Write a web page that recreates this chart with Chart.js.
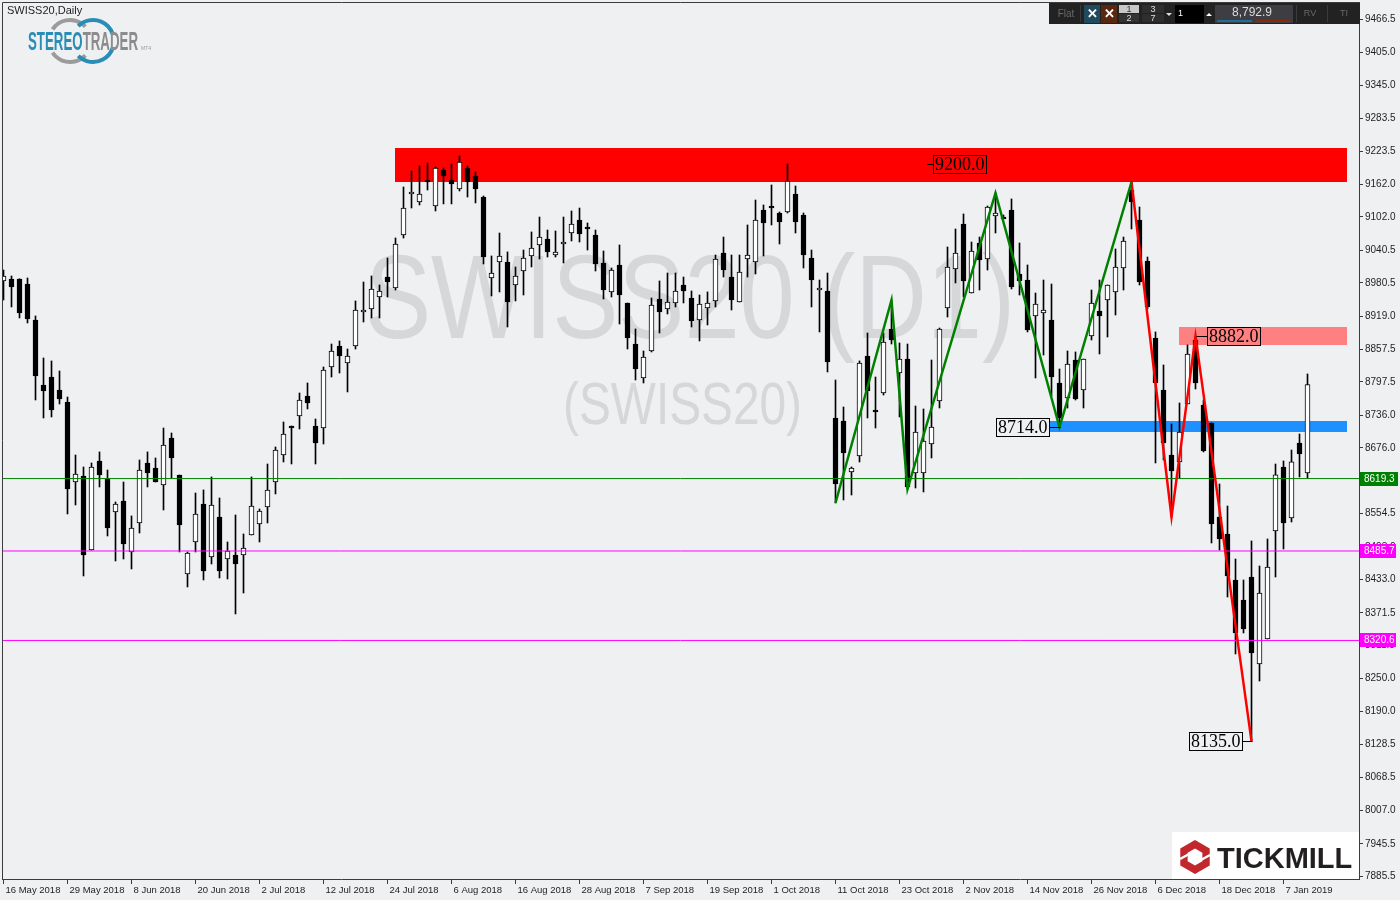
<!DOCTYPE html>
<html>
<head>
<meta charset="utf-8">
<title>SWISS20, Daily</title>
<script src="https://cdn.jsdelivr.net/npm/chart.js@4.4.1/dist/chart.umd.min.js"></script>
<style>
  html, body { margin: 0; padding: 0; background: #eff0f2; }
  canvas { display: block; }
</style>
</head>
<body>
<canvas id="chart" width="1400" height="900"></canvas>
<script>
// ---- Daily candles, SWISS20 (16 May 2018 - 8 Jan 2019) ----
const opens = [
  8983.9, 8987.5, 8987.5, 8978.3, 8911.9, 8792.0, 8806.7, 8782.7, 8760.6, 8613.0,
  8624.1, 8487.5, 8651.8, 8618.5, 8557.7, 8578.0, 8483.9, 8537.4, 8648.1, 8638.8,
  8607.5, 8694.2, 8625.9, 8443.3, 8502.3, 8572.4, 8474.6, 8548.4, 8470.9, 8478.3,
  8478.3, 8515.2, 8535.5, 8566.9, 8613.0, 8662.8, 8716.3, 8734.8, 8771.7, 8716.3,
  8712.6, 8825.2, 8863.9, 8832.6, 8863.9, 8926.7, 8932.2, 8954.3, 8991.2, 8970.9,
  9068.7, 9144.4, 9129.6, 9170.2, 9122.2, 9188.7, 9170.2, 9153.6, 9192.3, 9177.6,
  9138.8, 8989.4, 9018.9, 9018.9, 8976.5, 9002.3, 9030.0, 9050.3, 9061.3, 9031.8,
  9052.1, 9072.4, 9096.4, 9081.6, 9068.7, 9017.1, 8963.6, 9013.4, 8943.3, 8867.6,
  8804.9, 8854.7, 8950.6, 8932.2, 8943.3, 8976.5, 8952.5, 8911.9, 8934.0, 8947.0,
  9035.5, 8991.2, 8945.1, 9024.4, 9018.9, 9114.8, 9120.4, 9109.3, 9111.2, 9144.4,
  9105.6, 9026.3, 8967.2, 8965.4, 8731.1, 8725.6, 8631.5, 8661.0, 8845.5, 8745.8,
  8777.2, 8895.3, 8814.1, 8839.9, 8629.6, 8629.6, 8683.1, 8762.5, 8934.0, 9006.0,
  9089.0, 8961.7, 9054.0, 9024.4, 9103.8, 9100.1, 9114.8, 8996.8, 8985.7, 8919.3,
  8924.8, 8911.9, 8795.7, 8768.0, 8838.1, 8782.7, 8882.4, 8928.5, 8948.8, 8963.6,
  9007.8, 9151.7, 9096.4, 9020.7, 8878.7, 8782.7, 8662.8, 8649.9, 8756.9, 8875.0,
  8755.1, 8721.9, 8548.4, 8517.1, 8432.2, 8395.3, 8437.7, 8277.2, 8323.4, 8522.6,
  8640.7, 8546.6, 8685.0, 8629.6
];
const highs = [
  9004.1, 8993.1, 8988.0, 8989.4, 8919.3, 8841.8, 8836.3, 8817.8, 8769.8, 8662.8,
  8640.7, 8648.1, 8668.4, 8635.1, 8576.1, 8613.0, 8550.3, 8653.6, 8668.4, 8657.3,
  8712.6, 8703.4, 8625.9, 8483.9, 8592.7, 8598.3, 8622.3, 8583.5, 8502.3, 8552.1,
  8517.1, 8622.3, 8563.2, 8646.2, 8677.6, 8723.7, 8716.3, 8777.2, 8795.7, 8729.2,
  8825.2, 8867.6, 8873.2, 8858.4, 8947.0, 8982.0, 8993.1, 8976.5, 9026.3, 9063.2,
  9157.3, 9186.8, 9196.0, 9201.6, 9194.2, 9192.3, 9199.7, 9214.5, 9196.0, 9185.0,
  9140.7, 9030.0, 9072.4, 9037.4, 9009.7, 9041.0, 9074.3, 9101.9, 9077.9, 9076.1,
  9101.9, 9113.0, 9118.5, 9090.9, 9077.9, 9039.2, 9007.8, 9050.3, 8943.3, 8895.3,
  8854.7, 8952.5, 8983.9, 8998.6, 8998.6, 8991.2, 8965.4, 8958.0, 8963.6, 9031.8,
  9065.0, 9031.8, 9031.8, 9087.2, 9133.3, 9124.1, 9161.0, 9111.2, 9199.7, 9159.1,
  9109.3, 9041.0, 8985.7, 8998.6, 8801.2, 8751.4, 8640.7, 8836.3, 8887.9, 8806.7,
  8887.9, 8948.8, 8869.5, 8867.6, 8753.2, 8747.7, 8838.1, 8897.1, 9046.6, 9079.8,
  9107.5, 9055.8, 9065.0, 9122.2, 9146.2, 9105.6, 9135.2, 9054.0, 9013.4, 8961.7,
  8985.7, 8978.3, 8821.5, 8854.7, 8852.9, 8839.9, 8967.2, 8985.7, 8976.5, 9042.9,
  9065.0, 9166.5, 9120.4, 9028.1, 8889.8, 8828.9, 8720.0, 8758.8, 8865.8, 8882.0,
  8764.3, 8722.0, 8609.3, 8568.7, 8470.9, 8432.2, 8504.2, 8458.0, 8507.9, 8646.2,
  8651.8, 8672.0, 8701.6, 8812.3
];
const lows = [
  8948.8, 8935.9, 8915.6, 8906.4, 8764.3, 8731.1, 8733.0, 8756.9, 8554.0, 8570.6,
  8439.6, 8487.5, 8603.8, 8513.4, 8467.3, 8470.9, 8452.5, 8518.9, 8603.8, 8613.0,
  8561.3, 8620.4, 8483.9, 8419.3, 8483.9, 8432.2, 8461.7, 8435.9, 8434.0, 8369.5,
  8408.2, 8515.2, 8502.3, 8537.4, 8590.9, 8649.9, 8646.2, 8710.8, 8747.7, 8646.2,
  8683.1, 8806.7, 8814.1, 8779.1, 8858.4, 8908.2, 8915.6, 8915.6, 8954.3, 8967.2,
  9063.2, 9118.5, 9124.1, 9151.7, 9113.0, 9126.0, 9126.0, 9149.9, 9138.8, 9127.8,
  9015.2, 8956.2, 8963.6, 8899.0, 8947.0, 8958.0, 9009.7, 9024.4, 9028.1, 9028.1,
  9017.1, 9057.7, 9055.8, 9041.0, 9002.3, 8950.6, 8954.3, 8904.5, 8858.4, 8801.2,
  8795.7, 8852.9, 8887.9, 8923.0, 8935.9, 8943.3, 8899.0, 8873.2, 8902.7, 8935.9,
  8991.2, 8930.3, 8945.1, 8991.2, 8996.8, 9030.0, 9087.2, 9052.1, 9109.3, 9072.4,
  9007.8, 8935.9, 8889.8, 8816.0, 8574.3, 8579.8, 8589.0, 8649.9, 8731.1, 8712.6,
  8773.5, 8867.6, 8733.0, 8600.0, 8601.9, 8594.6, 8657.3, 8749.5, 8917.4, 8980.2,
  8954.3, 8961.7, 8967.2, 9004.1, 9072.4, 9098.2, 8969.1, 8958.0, 8889.8, 8804.9,
  8847.3, 8771.7, 8714.0, 8749.5, 8764.3, 8749.5, 8875.0, 8849.2, 8880.5, 8921.1,
  8967.2, 9079.8, 8976.5, 8932.2, 8648.1, 8653.6, 8548.4, 8620.4, 8756.9, 8784.6,
  8668.4, 8500.5, 8487.5, 8400.8, 8295.7, 8334.4, 8135.0, 8245.8, 8323.4, 8437.7,
  8489.4, 8539.2, 8622.3, 8620.4
];
const closes = [
  8993.1, 8972.8, 8924.8, 8913.7, 8808.6, 8780.9, 8745.8, 8766.1, 8600.1, 8627.8,
  8478.3, 8640.7, 8625.9, 8528.1, 8572.4, 8498.6, 8528.1, 8635.1, 8629.6, 8613.0,
  8681.3, 8657.3, 8533.7, 8482.0, 8554.0, 8448.8, 8570.6, 8448.8, 8485.7, 8461.7,
  8491.2, 8568.7, 8559.5, 8598.3, 8672.0, 8701.6, 8712.6, 8764.3, 8758.8, 8685.0,
  8819.6, 8854.7, 8845.5, 8845.5, 8930.3, 8930.3, 8969.1, 8965.4, 8982.0, 9052.1,
  9118.5, 9146.2, 9144.4, 9166.5, 9192.3, 9177.6, 9162.8, 9203.4, 9166.5, 9153.6,
  9028.1, 8998.6, 9030.0, 8945.1, 8993.1, 9026.3, 9044.7, 9065.0, 9037.4, 9037.4,
  9052.1, 9089.0, 9070.9, 9079.8, 9015.2, 8967.2, 9004.1, 8958.0, 8878.7, 8821.5,
  8843.6, 8939.6, 8926.7, 8945.1, 8965.4, 8965.4, 8910.0, 8941.4, 8943.3, 9024.4,
  9004.1, 8948.8, 9000.5, 9031.8, 9096.4, 9090.9, 9118.5, 9092.7, 9168.4, 9092.7,
  9031.8, 8985.7, 8967.2, 8834.4, 8609.3, 8666.5, 8638.8, 8832.6, 8780.9, 8742.2,
  8871.3, 8875.0, 8839.9, 8603.8, 8705.3, 8688.7, 8714.5, 8895.3, 9009.7, 9035.5,
  8983.9, 9039.2, 9022.6, 9120.4, 9109.3, 9098.2, 8972.8, 8983.9, 8893.4, 8941.4,
  8930.3, 8806.7, 8731.1, 8830.7, 8766.1, 8839.9, 8943.3, 8919.3, 8976.5, 9009.7,
  9057.7, 9129.6, 8982.0, 8935.9, 8795.7, 8685.0, 8633.3, 8705.3, 8849.2, 8795.7,
  8670.2, 8535.5, 8507.9, 8439.6, 8334.4, 8341.8, 8297.5, 8408.2, 8456.2, 8626.0,
  8537.4, 8650.0, 8664.7, 8792.9
];

// date labels along the time axis, one every 8 sessions
const dateLabels = [
  '16 May 2018', '29 May 2018', '8 Jun 2018', '20 Jun 2018', '2 Jul 2018',
  '12 Jul 2018', '24 Jul 2018', '6 Aug 2018', '16 Aug 2018', '28 Aug 2018',
  '7 Sep 2018', '19 Sep 2018', '1 Oct 2018', '11 Oct 2018', '23 Oct 2018',
  '2 Nov 2018', '14 Nov 2018', '26 Nov 2018', '6 Dec 2018', '18 Dec 2018', '7 Jan 2019'
];
const dateTickIndex = [0, 8, 16, 24, 32, 40, 48, 56, 64, 72, 80, 88, 96, 104, 112, 120, 128, 136, 144, 152, 160];

// price scale labels
const priceTicks = [
  9466.5, 9405.0, 9345.0, 9283.5, 9223.5, 9162.0, 9102.0, 9040.5, 8980.5,
  8919.0, 8857.5, 8797.5, 8736.0, 8676.0, 8614.5, 8554.5, 8493.0, 8433.0,
  8371.5, 8311.5, 8250.0, 8190.0, 8128.5, 8068.5, 8007.0, 7945.5, 7885.5
];

// zig-zag swings (candle index, price)
const upWaveIdx = [104, 111, 113, 124, 132, 141];
const upWaveVal = [8574.3, 8948.8, 8600.0, 9146.2, 8714.0, 9166.5];
const downWaveIdx = [141, 146, 149, 156];
const downWaveVal = [9166.5, 8548.4, 8882.0, 8135.0];

// horizontal levels
const levelValues = [8619.3, 8485.7, 8320.6];
const levelColors = ['#008000', '#ff00ff', '#ff00ff'];

// supply / demand zones
const zoneLow = [9166.5, 8865.8, 8705.3];
const zoneHigh = [9229.2, 8899.0, 8725.6];
const zoneFrom = [48.9, 146.9, 130.8];
const zoneTo = [167.9, 167.9, 167.9];
const zoneColors = ['#ff0000', '#ff8080', '#1e90ff'];

// price tags: value, anchor candle, side (+1 right / -1 left), connector length
const tagValues = [9200.0, 8882.0, 8714.0, 8135.0];
const tagAnchor = [115.5, 149, 132, 156];
const tagSide = [1, 1, -1, -1];
const tagGap = [6, 11, 11, 10];

const lastPrice = 8792.9;

// ---- scale range ----
const X_MIN = -0.1875, X_MAX = 169.4375;
const Y_MIN = 7880.5, Y_MAX = 9498.6;

const idx = opens.map((_, i) => i);
const wickData = idx.map(i => ({ x: i, y: [lows[i], highs[i]] }));
const bodyData = idx.map(i => ({ x: i, y: [opens[i], closes[i]] }));
const bodyFill = idx.map(i => closes[i] >= opens[i] ? '#ffffff' : '#000000');

const levelSets = levelValues.map((v, k) => ({
  type: 'line',
  data: [{ x: X_MIN - 1, y: v }, { x: X_MAX + 1, y: v }],
  borderColor: levelColors[k],
  borderWidth: 1,
  pointRadius: 0,
  tension: 0,
  order: 1
}));

const AXIS = '#3c3c3c';
const TXT = '#1e1e1e';

// keep the plot box exactly where the layout puts it (no room reserved for edge labels)
const noEdgePadding = s => {
  s.paddingTop = 0; s.paddingBottom = 0; s.paddingLeft = 0; s.paddingRight = 0;
};

const decor = {
  id: 'decor',
  beforeDraw(chart) {
    const ctx = chart.ctx;
    ctx.save();
    ctx.fillStyle = '#eff0f2';
    ctx.fillRect(0, 0, chart.width, chart.height);
    ctx.restore();
  },
  beforeDatasetsDraw(chart) {
    const ctx = chart.ctx, a = chart.chartArea;
    const xs = chart.scales.x, ys = chart.scales.y;
    ctx.save();
    ctx.beginPath();
    ctx.rect(a.left, a.top, a.right - a.left, a.bottom - a.top);
    ctx.clip();
    // symbol watermark
    ctx.fillStyle = '#d5d7d9';
    ctx.textBaseline = 'alphabetic';
    ctx.textAlign = 'left';
    const drawWide = (txt, size, left, base, width) => {
      ctx.font = size + 'px "Liberation Sans", Arial, sans-serif';
      const w = ctx.measureText(txt).width;
      ctx.save();
      ctx.translate(left, base);
      ctx.scale(width / w, 1);
      ctx.fillText(txt, 0, 0);
      ctx.restore();
    };
    drawWide('SWISS20 (D1)', 119, 365, 338, 650);
    drawWide('(SWISS20)', 60, 563, 424, 239);
    // zones
    for (let k = 0; k < zoneLow.length; k++) {
      const x1 = Math.round(xs.getPixelForValue(zoneFrom[k]));
      const x2 = Math.round(xs.getPixelForValue(zoneTo[k]));
      const y1 = Math.round(ys.getPixelForValue(zoneHigh[k]));
      const y2 = Math.round(ys.getPixelForValue(zoneLow[k]));
      ctx.fillStyle = zoneColors[k];
      ctx.fillRect(x1, y1, x2 - x1, y2 - y1);
    }
    ctx.restore();
  },
  afterDatasetsDraw(chart) {
    const ctx = chart.ctx;
    const xs = chart.scales.x, ys = chart.scales.y;
    ctx.save();
    ctx.font = '18px "Liberation Serif", "Times New Roman", serif';
    ctx.textBaseline = 'middle';
    ctx.textAlign = 'left';
    ctx.strokeStyle = '#000';
    ctx.lineWidth = 1;
    for (let k = 0; k < tagValues.length; k++) {
      const txt = tagValues[k].toFixed(1);
      const ax = Math.round(xs.getPixelForValue(tagAnchor[k])) + 0.5;
      const ay = Math.round(ys.getPixelForValue(tagValues[k])) + 0.5;
      const tw = ctx.measureText(txt).width;
      const bw = Math.round(tw + 3), bh = 18;
      const edge = ax + tagSide[k] * tagGap[k];
      const bx = tagSide[k] > 0 ? edge : edge - bw;
      ctx.beginPath();
      ctx.moveTo(ax, ay);
      ctx.lineTo(edge, ay);
      ctx.stroke();
      ctx.strokeRect(bx, ay - bh / 2, bw, bh);
      ctx.fillStyle = '#000';
      ctx.fillText(txt, bx + 1.5, ay + 1);
    }
    ctx.restore();
  },
  afterDraw(chart) {
    const ctx = chart.ctx, a = chart.chartArea;
    const ys = chart.scales.y;
    ctx.save();
    // frame (top and left edges of the plot)
    ctx.strokeStyle = AXIS;
    ctx.lineWidth = 1;
    ctx.beginPath();
    ctx.moveTo(a.left + 0.5, a.bottom);
    ctx.lineTo(a.left + 0.5, a.top + 0.5);
    ctx.lineTo(a.right, a.top + 0.5);
    ctx.stroke();

    // level price badges on the price axis
    ctx.font = '10px "Liberation Sans", Arial, sans-serif';
    ctx.textBaseline = 'middle';
    ctx.textAlign = 'left';
    levelValues.forEach((v, k) => {
      const y = Math.round(ys.getPixelForValue(v));
      const w = k === 0 ? 38 : 36;
      ctx.fillStyle = levelColors[k];
      ctx.fillRect(a.right + 1, y - 7, w, 14);
      ctx.fillStyle = '#ffffff';
      ctx.fillText(v.toFixed(1), a.right + 5, y + 0.5);
    });

    // chart caption
    ctx.fillStyle = TXT;
    ctx.font = '11px "Liberation Sans", Arial, sans-serif';
    ctx.textBaseline = 'alphabetic';
    ctx.fillText('SWISS20,Daily', 7, 14);

    // StereoTrader badge
    ctx.lineWidth = 4;
    ctx.strokeStyle = '#9b9b9b';
    ctx.beginPath(); ctx.arc(70, 41, 21, -2.55, -0.75); ctx.stroke();
    ctx.beginPath(); ctx.arc(70, 41, 21, 0.75, 2.55); ctx.stroke();
    ctx.strokeStyle = '#2a8db5';
    ctx.beginPath(); ctx.arc(93, 41, 21, -2.35, -0.3); ctx.stroke();
    ctx.beginPath(); ctx.arc(93, 41, 21, 0.3, 2.35); ctx.stroke();
    ctx.font = 'bold 25px "Liberation Sans", Arial, sans-serif';
    const full = ctx.measureText('STEREOTRADER').width;
    const part = ctx.measureText('STEREO').width;
    ctx.save();
    ctx.translate(28, 50);
    ctx.scale(110 / full, 1);
    ctx.fillStyle = '#2a8db5';
    ctx.fillText('STEREO', 0, 0);
    ctx.fillStyle = '#8c8c8c';
    ctx.fillText('TRADER', part, 0);
    ctx.restore();
    ctx.fillStyle = '#9b9b9b';
    ctx.font = '5px "Liberation Sans", Arial, sans-serif';
    ctx.fillText('MT4', 141, 50);

    // trading toolbar
    const tb = { x: 1049, y: 3, w: 311, h: 21 };
    ctx.fillStyle = '#222222';
    ctx.fillRect(tb.x, tb.y, tb.w, tb.h);
    ctx.strokeStyle = '#3a3a3a';
    ctx.lineWidth = 1;
    [1080, 1296, 1327].forEach(x => {
      ctx.beginPath(); ctx.moveTo(x + 0.5, 5); ctx.lineTo(x + 0.5, 22); ctx.stroke();
    });
    ctx.font = '10px "Liberation Sans", Arial, sans-serif';
    ctx.textBaseline = 'middle';
    ctx.textAlign = 'center';
    ctx.fillStyle = '#6a6a6a';
    ctx.fillText('Flat', 1066, 14);
    ctx.fillStyle = '#204b5c'; ctx.fillRect(1084, 5, 16, 18);
    ctx.fillStyle = '#5a2810'; ctx.fillRect(1101, 5, 16, 18);
    ctx.fillStyle = '#ffffff';
    ctx.font = 'bold 13px "Liberation Sans", Arial, sans-serif';
    ctx.fillText('\u2715', 1092, 14.5);
    ctx.fillText('\u2715', 1109, 14.5);
    ctx.font = '9px "Liberation Sans", Arial, sans-serif';
    ctx.fillStyle = '#c8c8c8'; ctx.fillRect(1119, 5, 20, 8);
    ctx.fillStyle = '#333333'; ctx.fillRect(1119, 14, 20, 8);
    ctx.fillStyle = '#2e2e2e'; ctx.fillRect(1142, 5, 22, 8);
    ctx.fillStyle = '#2e2e2e'; ctx.fillRect(1142, 14, 22, 8);
    ctx.fillStyle = '#333'; ctx.fillText('1', 1129, 9.5);
    ctx.fillStyle = '#dddddd'; ctx.fillText('2', 1129, 18.5);
    ctx.fillText('3', 1153, 9.5);
    ctx.fillText('7', 1153, 18.5);
    ctx.beginPath(); ctx.moveTo(1166, 13); ctx.lineTo(1172, 13); ctx.lineTo(1169, 16); ctx.closePath(); ctx.fill();
    ctx.fillStyle = '#000000'; ctx.fillRect(1175, 5, 29, 18);
    ctx.fillStyle = '#ffffff'; ctx.textAlign = 'left'; ctx.fillText('1', 1178, 14);
    ctx.beginPath(); ctx.moveTo(1206, 16); ctx.lineTo(1212, 16); ctx.lineTo(1209, 13); ctx.closePath(); ctx.fill();
    ctx.fillStyle = '#3d3d42'; ctx.fillRect(1215, 5, 78, 18);
    ctx.fillStyle = '#1d6f9c'; ctx.fillRect(1217, 20, 35, 2);
    ctx.fillStyle = '#8a2a0a'; ctx.fillRect(1256, 20, 34, 2);
    ctx.textAlign = 'center';
    ctx.fillStyle = '#dcdcdc';
    ctx.font = '12px "Liberation Sans", Arial, sans-serif';
    ctx.fillText(lastPrice.toLocaleString('en-US', { minimumFractionDigits: 1 }), 1252, 13);
    ctx.fillStyle = '#6a6a6a';
    ctx.font = '9px "Liberation Sans", Arial, sans-serif';
    ctx.fillText('RV', 1310, 14);
    ctx.fillText('TI', 1344, 14);

    // broker badge
    ctx.fillStyle = '#ffffff';
    ctx.fillRect(1172, 832, 187, 47);
    const cx = 1195, cy = 857, r = 17;
    const hex = [];
    for (let k = 0; k < 6; k++) {
      const ang = Math.PI / 6 + k * Math.PI / 3;
      hex.push([cx + r * Math.cos(ang), cy + r * Math.sin(ang)]);
    }
    ctx.fillStyle = '#c1272d';
    ctx.beginPath();
    hex.forEach((p, k) => k ? ctx.lineTo(p[0], p[1]) : ctx.moveTo(p[0], p[1]));
    ctx.closePath(); ctx.fill();
    ctx.fillStyle = '#ffffff';
    ctx.beginPath();
    hex.forEach((p, k) => {
      const q = [cx + (p[0] - cx) * 0.5, cy + (p[1] - cy) * 0.5];
      k ? ctx.lineTo(q[0], q[1]) : ctx.moveTo(q[0], q[1]);
    });
    ctx.closePath(); ctx.fill();
    ctx.strokeStyle = '#ffffff';
    ctx.lineWidth = 2.5;
    ctx.beginPath(); ctx.moveTo(cx - 15, cy + 2); ctx.lineTo(cx - 4, cy - 4); ctx.stroke();
    ctx.beginPath(); ctx.moveTo(cx + 4, cy + 4); ctx.lineTo(cx + 15, cy - 2); ctx.stroke();
    ctx.fillStyle = '#231f20';
    ctx.font = 'bold 29px "Liberation Sans", Arial, sans-serif';
    ctx.textAlign = 'left';
    ctx.textBaseline = 'alphabetic';
    ctx.fillText('TICKMILL', 1217, 868);
    ctx.restore();
  }
};

new Chart(document.getElementById('chart'), {
  type: 'bar',
  data: {
    datasets: [
      {
        label: 'range',
        data: wickData,
        backgroundColor: '#000000',
        borderWidth: 0,
        barThickness: 1,
        grouped: false,
        order: 3
      },
      {
        label: 'body',
        data: bodyData,
        backgroundColor: bodyFill,
        borderColor: '#000000',
        borderWidth: 1,
        borderSkipped: false,
        barThickness: 5,
        minBarLength: 2,
        grouped: false,
        order: 2
      },
      ...levelSets,
      {
        type: 'line',
        label: 'swing up',
        data: upWaveIdx.map((x, k) => ({ x, y: upWaveVal[k] })),
        borderColor: '#008000',
        borderWidth: 2.5,
        pointRadius: 0,
        tension: 0,
        order: 0
      },
      {
        type: 'line',
        label: 'swing down',
        data: downWaveIdx.map((x, k) => ({ x, y: downWaveVal[k] })),
        borderColor: '#ff0000',
        borderWidth: 2.5,
        pointRadius: 0,
        tension: 0,
        order: 0
      }
    ]
  },
  options: {
    responsive: false,
    animation: false,
    events: [],
    layout: { padding: { left: 2, top: 2, right: 0, bottom: 0 } },
    plugins: { legend: { display: false }, tooltip: { enabled: false } },
    scales: {
      x: {
        type: 'linear',
        min: X_MIN,
        max: X_MAX,
        offset: false,
        grid: { offset: false, drawOnChartArea: false, drawTicks: true, tickLength: 5, color: AXIS },
        border: { display: true, color: AXIS, width: 1 },
        afterBuildTicks: s => { s.ticks = dateTickIndex.map(v => ({ value: v })); },
        afterFit: s => { s.height = 21; noEdgePadding(s); },
        ticks: {
          autoSkip: false,
          maxRotation: 0,
          align: 'start',
          labelOffset: 2,
          padding: 1,
          color: TXT,
          font: { family: '"Liberation Sans", Arial, sans-serif', size: 9.5 },
          callback: (v, i) => dateLabels[i]
        }
      },
      y: {
        type: 'linear',
        position: 'right',
        min: Y_MIN,
        max: Y_MAX,
        bounds: 'data',
        beginAtZero: false,
        grid: { drawOnChartArea: false, drawTicks: true, tickLength: 4, color: AXIS },
        border: { display: true, color: AXIS, width: 1 },
        afterBuildTicks: s => { s.ticks = priceTicks.map(v => ({ value: v })); },
        afterFit: s => { s.width = 41; noEdgePadding(s); },
        ticks: {
          autoSkip: false,
          padding: 2,
          color: TXT,
          font: { family: '"Liberation Sans", Arial, sans-serif', size: 10 },
          callback: v => Number(v).toFixed(1)
        }
      }
    }
  },
  plugins: [decor]
});
</script>
</body>
</html>
